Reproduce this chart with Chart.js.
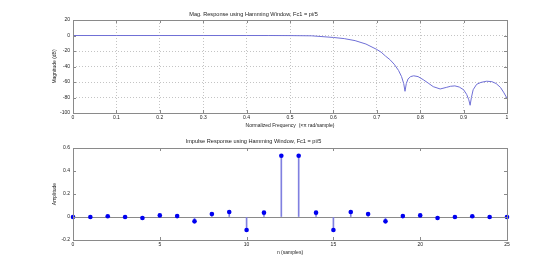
<!DOCTYPE html>
<html><head><meta charset="utf-8">
<script src="https://cdn.jsdelivr.net/npm/chart.js@4/dist/chart.umd.min.js"></script>
<style>
html,body{margin:0;padding:0;background:#fff;}
#wrap{width:560px;height:270px;position:relative;overflow:hidden;}
.c{position:absolute;left:0;width:560px;height:135px;}
</style></head><body>
<div id="wrap">
<div class="c" style="top:0"><canvas id="mag" width="560" height="135"></canvas></div>
<div class="c" style="top:135px"><canvas id="imp" width="560" height="135"></canvas></div>
</div>
<script>
// ---- Magnitude response ----
const freq  = [0, 0.1, 0.2, 0.3, 0.4, 0.45, 0.5, 0.55, 0.6, 0.625, 0.65, 0.675, 0.7, 0.71, 0.72, 0.73, 0.74, 0.75, 0.757, 0.762, 0.765, 0.768, 0.772, 0.778, 0.785, 0.795, 0.807, 0.82, 0.83, 0.846, 0.86, 0.87, 0.88, 0.89, 0.9, 0.907, 0.912, 0.915, 0.918, 0.922, 0.93, 0.94, 0.953, 0.965, 0.975, 0.985, 0.993, 1.0];
const magDb = [0, 0, 0, 0, 0, 0, -0.1, -0.4, -2.5, -4, -6.6, -11, -18, -21.5, -26.5, -31, -37, -45, -53, -62, -72, -62, -56, -53, -52, -53, -57, -62, -66, -69, -67, -65.5, -65, -66.5, -70, -76, -83, -90, -80, -70, -63, -60.5, -59, -59.5, -62, -67, -74, -81];
const magXTicks = {min: 0, max: 1, step: 0.1};
const magYTicks = {min: -100, max: 20, step: 20};

// ---- Impulse response ----
const sampleIdx = [0,1,2,3,4,5,6,7,8,9,10,11,12,13,14,15,16,17,18,19,20,21,22,23,24,25];
const impulse = [0, 0, 0.006, 0, -0.009, 0.014, 0.008, -0.038, 0.026, 0.043, -0.113, 0.038, 0.533, 0.533, 0.038, -0.113, 0.043, 0.026, -0.038, 0.008, 0.014, -0.009, 0, 0.006, 0, 0];
const impXTicks = {min: 0, max: 25, step: 5};
const impYTicks = {min: -0.2, max: 0.6, step: 0.2};

const TEXT = '#222';
const AXIS = '#8a8a8a';
const FONT = '"Liberation Sans", Arial, sans-serif';
const fmt = v => String(+Number(v).toFixed(3));

const boxTicks = {
  id: 'boxTicks',
  afterDatasetsDraw(chart) {
    const {ctx, chartArea: a, scales} = chart;
    const L = 3;
    ctx.save();
    ctx.strokeStyle = AXIS;
    ctx.lineWidth = 1;
    const seg = (x1, y1, x2, y2) => { ctx.beginPath(); ctx.moveTo(x1, y1); ctx.lineTo(x2, y2); ctx.stroke(); };
    scales.x.ticks.forEach(t => {
      const px = Math.round(scales.x.getPixelForValue(t.value)) + 0.5;
      seg(px, a.bottom, px, a.bottom - L);
      seg(px, a.top, px, a.top + L);
    });
    scales.y.ticks.forEach(t => {
      const py = Math.round(scales.y.getPixelForValue(t.value)) + 0.5;
      seg(a.left, py, a.left + L, py);
      seg(a.right, py, a.right - L, py);
    });
    ctx.strokeRect(Math.round(a.left) + 0.5, Math.round(a.top) + 0.5, Math.round(a.right - a.left), Math.round(a.bottom - a.top));
    ctx.restore();
  }
};

function axisX(r, title, grid, h, tpad) {
  return {
    type: 'linear', min: r.min, max: r.max, offset: false,
    ticks: {stepSize: r.step, autoSkip: false, maxRotation: 0, color: TEXT, font: {family: FONT, size: 5}, padding: 1.5, callback: fmt},
    grid: grid,
    border: {display: false, dash: grid.dashArr || []},
    title: {display: true, text: title, color: TEXT, font: {family: FONT, size: 5}, padding: {top: 0, bottom: tpad}},
    afterFit: s => { s.height = h; }
  };
}
function axisY(r, title, grid) {
  return {
    type: 'linear', min: r.min, max: r.max,
    ticks: {stepSize: r.step, autoSkip: false, color: TEXT, font: {family: FONT, size: 5}, padding: 3, callback: fmt},
    grid: grid,
    border: {display: false, dash: grid.dashArr || []},
    title: {display: true, text: title, color: TEXT, font: {family: FONT, size: 5}, padding: {top: 52, bottom: 0}},
    afterFit: s => { s.width = 73; }
  };
}

Chart.defaults.animation = false;

const gridTop = {color: '#c4c4c4', lineWidth: 1, drawTicks: false, dashArr: [1, 2]};

new Chart(document.getElementById('mag'), {
  type: 'scatter',
  data: {
    datasets: [{
      data: freq.map((f, i) => ({x: f, y: magDb[i]})),
      showLine: true, borderColor: '#6f6fd6', borderWidth: 1, pointRadius: 0, tension: 0, fill: false
    }]
  },
  options: {
    responsive: false, devicePixelRatio: 1, animation: false,
    layout: {padding: {left: 0, right: 53, top: 0, bottom: 0}},
    plugins: {
      legend: {display: false}, tooltip: {enabled: false},
      title: {display: true, text: 'Mag. Response using Hamming Window, Fc1 = pi/5', color: TEXT,
              font: {family: FONT, size: 5.6, weight: 'normal'}, padding: {top: 10.9, bottom: 2.4}}
    },
    scales: {
      x: axisX(magXTicks, 'Normalized Frequency  (×π rad/sample)', gridTop, 22, 6),
      y: axisY(magYTicks, 'Magnitude (dB)', gridTop)
    }
  },
  plugins: [boxTicks]
});

new Chart(document.getElementById('imp'), {
  type: 'bar',
  data: {
    datasets: [
      {type: 'scatter', data: sampleIdx.map((n, i) => ({x: n, y: impulse[i]})),
       pointRadius: 2.3, pointBackgroundColor: '#0000f0', pointBorderWidth: 0, pointBorderColor: '#0000f0',
       showLine: false, clip: false, order: 0},
      {type: 'bar', data: sampleIdx.map((n, i) => ({x: n, y: impulse[i]})),
       barThickness: 1, backgroundColor: '#8080e0', borderWidth: 0, order: 1}
    ]
  },
  options: {
    responsive: false, devicePixelRatio: 1, animation: false,
    layout: {padding: {left: 0, right: 53, top: 0, bottom: 0}},
    plugins: {
      legend: {display: false}, tooltip: {enabled: false},
      title: {display: true, text: 'Impulse Response using Hamming Window, Fc1 = pi/5', color: TEXT,
              font: {family: FONT, size: 5.6, weight: 'normal'}, padding: {top: 3.2, bottom: 3.1}}
    },
    scales: {
      x: axisX(impXTicks, 'n (samples)', {display: false, drawTicks: false}, 30, 14),
      y: axisY(impYTicks, 'Amplitude', {drawTicks: false, lineWidth: 1,
         color: c => (c.tick && Math.abs(c.tick.value) < 1e-9) ? AXIS : 'rgba(0,0,0,0)'})
    }
  },
  plugins: [boxTicks]
});
</script>
</body></html>
